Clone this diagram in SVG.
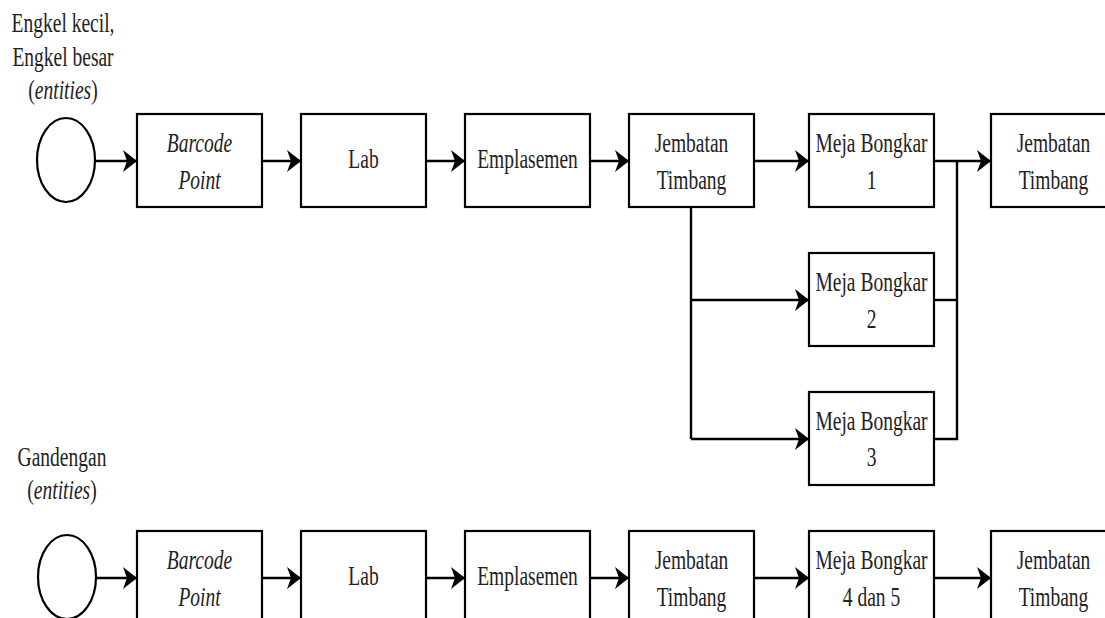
<svg xmlns="http://www.w3.org/2000/svg" width="1105" height="618" viewBox="0 0 1105 618">
<style>
.box{fill:#fff;stroke:#000;stroke-width:2.2}
.ent{fill:#fff;stroke:#000;stroke-width:2.2}
.ln{fill:none;stroke:#000;stroke-width:2.4}
.t{font-family:'Liberation Serif','Times New Roman','DejaVu Serif',serif;font-size:19.5px;fill:#222;text-anchor:middle}
.i{font-style:italic}
</style>
<defs>
<marker id="ah" markerUnits="userSpaceOnUse" markerWidth="15" markerHeight="22" refX="14" refY="11" orient="auto" viewBox="0 0 15 22">
<path d="M0,0 L14,11 L0,22 L4,11 Z" fill="#000"/>
</marker>
</defs>
<rect width="1105" height="618" fill="#fff"/>
<g id="connectors">
<line class="ln" x1="95" y1="161" x2="137" y2="161" marker-end="url(#ah)"/>
<line class="ln" x1="262" y1="161" x2="301" y2="161" marker-end="url(#ah)"/>
<line class="ln" x1="426" y1="161" x2="465" y2="161" marker-end="url(#ah)"/>
<line class="ln" x1="590" y1="161" x2="629" y2="161" marker-end="url(#ah)"/>
<line class="ln" x1="754" y1="161" x2="809" y2="161" marker-end="url(#ah)"/>
<line class="ln" x1="934" y1="161" x2="991" y2="161" marker-end="url(#ah)"/>
<polyline class="ln" points="691,207 691,439"/>
<line class="ln" x1="691" y1="300" x2="809" y2="300" marker-end="url(#ah)"/>
<line class="ln" x1="691" y1="439" x2="809" y2="439" marker-end="url(#ah)"/>
<polyline class="ln" points="934,300 957,300"/>
<polyline class="ln" points="934,439 957,439 957,161"/>
<line class="ln" x1="96" y1="578" x2="137" y2="578" marker-end="url(#ah)"/>
<line class="ln" x1="262" y1="578" x2="301" y2="578" marker-end="url(#ah)"/>
<line class="ln" x1="426" y1="578" x2="465" y2="578" marker-end="url(#ah)"/>
<line class="ln" x1="590" y1="578" x2="629" y2="578" marker-end="url(#ah)"/>
<line class="ln" x1="754" y1="578" x2="809" y2="578" marker-end="url(#ah)"/>
<line class="ln" x1="934" y1="578" x2="991" y2="578" marker-end="url(#ah)"/>
</g>
<g id="label1" font-family="Liberation Serif">
<text class="t" transform="translate(63,32) scale(1,1.4)">Engkel kecil,</text>
<text class="t" transform="translate(63,66) scale(1,1.4)">Engkel besar</text>
<text class="t" transform="translate(63,99) scale(1,1.4)">(<tspan class="i">entities</tspan>)</text>
</g>
<g id="entity1"><ellipse class="ent" cx="66" cy="160" rx="29" ry="42"/></g>
<g id="barcode1"><rect class="box" x="137" y="114" width="125" height="93"/>
<text class="t i" transform="translate(199.5,152) scale(1,1.4)">Barcode</text>
<text class="t i" transform="translate(199.5,189) scale(1,1.4)">Point</text></g>
<g id="lab1"><rect class="box" x="301" y="114" width="125" height="93"/>
<text class="t" transform="translate(363.5,168) scale(1,1.4)">Lab</text></g>
<g id="emplasemen1"><rect class="box" x="465" y="114" width="125" height="93"/>
<text class="t" transform="translate(527.5,168) scale(1,1.4)">Emplasemen</text></g>
<g id="jembatan1"><rect class="box" x="629" y="114" width="125" height="93"/>
<text class="t" transform="translate(691.5,152) scale(1,1.4)">Jembatan</text>
<text class="t" transform="translate(691.5,189) scale(1,1.4)">Timbang</text></g>
<g id="meja1"><rect class="box" x="809" y="114" width="125" height="93"/>
<text class="t" transform="translate(871.5,152) scale(1,1.4)">Meja Bongkar</text>
<text class="t" transform="translate(871.5,189) scale(1,1.4)">1</text></g>
<g id="jembatan1b"><rect class="box" x="991" y="114" width="125" height="93"/>
<text class="t" transform="translate(1053.5,152) scale(1,1.4)">Jembatan</text>
<text class="t" transform="translate(1053.5,189) scale(1,1.4)">Timbang</text></g>
<g id="meja2"><rect class="box" x="809" y="253" width="125" height="93"/>
<text class="t" transform="translate(871.5,291) scale(1,1.4)">Meja Bongkar</text>
<text class="t" transform="translate(871.5,328) scale(1,1.4)">2</text></g>
<g id="meja3"><rect class="box" x="809" y="392" width="125" height="93"/>
<text class="t" transform="translate(871.5,430) scale(1,1.4)">Meja Bongkar</text>
<text class="t" transform="translate(871.5,466) scale(1,1.4)">3</text></g>
<g id="label2">
<text class="t" transform="translate(62,466) scale(1,1.4)">Gandengan</text>
<text class="t" transform="translate(62,499) scale(1,1.4)">(<tspan class="i">entities</tspan>)</text>
</g>
<g id="entity2"><ellipse class="ent" cx="67" cy="577" rx="29" ry="42"/></g>
<g id="barcode2"><rect class="box" x="137" y="531" width="125" height="93"/>
<text class="t i" transform="translate(199.5,569) scale(1,1.4)">Barcode</text>
<text class="t i" transform="translate(199.5,606) scale(1,1.4)">Point</text></g>
<g id="lab2"><rect class="box" x="301" y="531" width="125" height="93"/>
<text class="t" transform="translate(363.5,585) scale(1,1.4)">Lab</text></g>
<g id="emplasemen2"><rect class="box" x="465" y="531" width="125" height="93"/>
<text class="t" transform="translate(527.5,585) scale(1,1.4)">Emplasemen</text></g>
<g id="jembatan2"><rect class="box" x="629" y="531" width="125" height="93"/>
<text class="t" transform="translate(691.5,569) scale(1,1.4)">Jembatan</text>
<text class="t" transform="translate(691.5,606) scale(1,1.4)">Timbang</text></g>
<g id="meja45"><rect class="box" x="809" y="531" width="125" height="93"/>
<text class="t" transform="translate(871.5,569) scale(1,1.4)">Meja Bongkar</text>
<text class="t" transform="translate(871.5,606) scale(1,1.4)">4 dan 5</text></g>
<g id="jembatan2b"><rect class="box" x="991" y="531" width="125" height="93"/>
<text class="t" transform="translate(1053.5,569) scale(1,1.4)">Jembatan</text>
<text class="t" transform="translate(1053.5,606) scale(1,1.4)">Timbang</text></g>
</svg>
